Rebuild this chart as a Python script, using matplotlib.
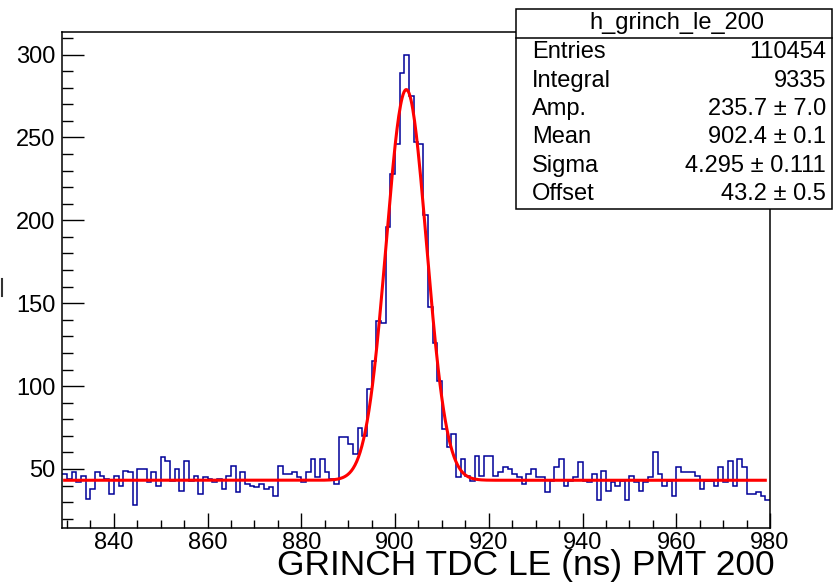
import numpy as np
import matplotlib
matplotlib.use('Agg')
import matplotlib.pyplot as plt
from matplotlib.patches import Rectangle
from matplotlib.ticker import MultipleLocator

plt.rcParams['font.family'] = ['Liberation Sans', 'DejaVu Sans']

# histogram h_grinch_le_200, 1 ns bins from 829 to 980
bin_lo = 829
bin_hi = 980
counts = [47, 44, 48, 42, 46, 32, 38, 48, 46, 44,
          35, 46, 40, 49, 48, 28, 50, 50, 42, 48,
          40, 57, 55, 43, 50, 37, 55, 43, 46, 35,
          45, 44, 42, 44, 38, 46, 52, 36, 48, 41,
          40, 39, 41, 38, 39, 34, 52, 47, 47, 48,
          45, 42, 48, 56, 45, 56, 48, 44, 41, 69,
          69, 65, 59, 75, 70, 98, 115, 139, 138, 196,
          228, 246, 289, 300, 275, 247, 246, 203, 148, 126,
          103, 74, 63, 71, 45, 56, 46, 43, 58, 46,
          58, 58, 46, 48, 51, 50, 47, 45, 41, 47,
          50, 45, 45, 36, 43, 51, 56, 40, 43, 45,
          54, 43, 42, 47, 31, 49, 37, 42, 40, 43,
          31, 46, 42, 37, 42, 45, 60, 47, 40, 43,
          34, 51, 48, 48, 48, 46, 38, 43, 43, 40,
          51, 42, 55, 40, 56, 51, 35, 35, 36, 34,
          31]

# fit result (gaus + offset)
amp = 235.7
mean = 902.4
sigma = 4.295
offset = 43.2

stat_names = ['Entries', 'Integral', 'Amp.', 'Mean', 'Sigma', 'Offset']
stat_values = ['110454', '9335', '235.7 \u00b1 7.0', '902.4 \u00b1 0.1',
               '4.295 \u00b1 0.111', '43.2 \u00b1 0.5']

W, H = 833, 583
fig = plt.figure(figsize=(W / 100, H / 100), dpi=100)

def fx(px):
    return px / W

def fy(py):
    return 1 - py / H

left, right, top, bottom = 62.3, 770, 32, 528
ax = fig.add_axes([fx(left), fy(bottom), fx(right) - fx(left), fy(top) - fy(bottom)])

edges = np.arange(bin_lo, bin_hi + 1)
ax.stairs(counts, edges, baseline=None, color='#000099', linewidth=1.1)

xf = np.linspace(bin_lo + 0.5, bin_hi - 1, 800)
yf = offset + amp * np.exp(-0.5 * ((xf - mean) / sigma) ** 2)
ax.plot(xf, yf, color='#ff0000', linewidth=2.2)

ax.set_xlim(bin_lo, bin_hi)
ax.set_ylim(14.4, 313.6)

ax.xaxis.set_major_locator(MultipleLocator(20))
ax.xaxis.set_minor_locator(MultipleLocator(5))
ax.yaxis.set_major_locator(MultipleLocator(50))
ax.yaxis.set_minor_locator(MultipleLocator(10))
ax.tick_params(axis='x', which='major', direction='in', length=11, width=1, labelsize=17, pad=3)
ax.tick_params(axis='x', which='minor', direction='in', length=6, width=1)
ax.tick_params(axis='y', which='major', direction='in', length=15.5, width=1, labelsize=17, pad=5)
ax.tick_params(axis='y', which='minor', direction='in', length=8, width=1)
for s in ax.spines.values():
    s.set_linewidth(1.1)

fig.text(fx(775), fy(575), 'GRINCH TDC LE (ns) PMT 200', ha='right', va='baseline', fontsize=25.5)

# cut-off piece of the y axis title at the left edge
fig.lines.append(plt.Line2D([fx(1.5), fx(1.5)], [fy(279), fy(296)], transform=fig.transFigure,
                            color='#333333', linewidth=1.5))

# stats box
bx0, bx1, by0, by1, bsep = 516, 831.5, 9, 208.5, 38
fig.patches.append(Rectangle((fx(bx0), fy(by1)), fx(bx1) - fx(bx0), fy(by0) - fy(by1),
                             transform=fig.transFigure, facecolor='white', edgecolor='black',
                             linewidth=1.1, zorder=5))
fig.lines.append(plt.Line2D([fx(bx0), fx(bx1)], [fy(bsep), fy(bsep)], transform=fig.transFigure,
                            color='black', linewidth=1.1, zorder=6))
fig.text(fx((bx0 + bx1) / 2 + 3), fy((by0 + bsep) / 2), 'h_grinch_le_200', ha='center', va='center',
         fontsize=17, zorder=7)
row_h = (by1 - bsep) / len(stat_names)
for i, (n, v) in enumerate(zip(stat_names, stat_values)):
    yc = bsep + row_h * (i + 0.5)
    fig.text(fx(532), fy(yc), n, ha='left', va='center', fontsize=17, zorder=7)
    fig.text(fx(826), fy(yc), v, ha='right', va='center', fontsize=17, zorder=7)

fig.savefig('out.png', dpi=100)
